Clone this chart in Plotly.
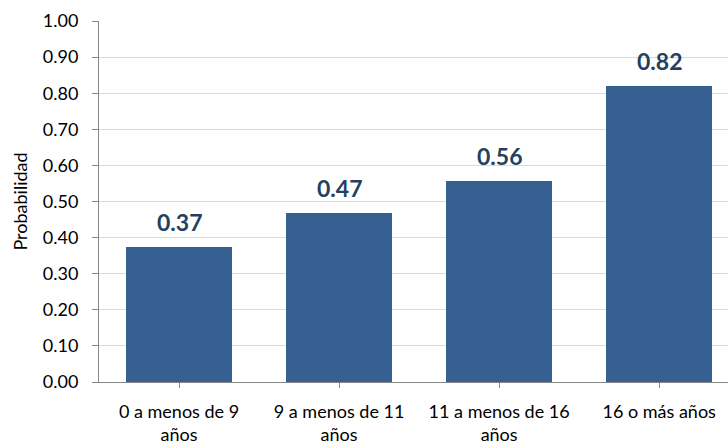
import plotly.graph_objects as go

categories = ["0 a menos de 9<br>años", "9 a menos de 11<br>años", "11 a menos de 16<br>años", "16 o más años"]
values = [0.374, 0.467, 0.556, 0.821]
labels = ["0.37", "0.47", "0.56", "0.82"]
y_ticks = [0.0, 0.1, 0.2, 0.3, 0.4, 0.5, 0.6, 0.7, 0.8, 0.9, 1.0]

FONT = "Lato, Open Sans, sans-serif"

fig = go.Figure()
fig.add_trace(go.Bar(x=list(range(len(categories))), y=values, width=0.665,
                     marker=dict(color="#376092", line=dict(width=0))))

for i, (v, t) in enumerate(zip(values, labels)):
    fig.add_annotation(x=i, y=v, text="<b>%s</b>" % t, showarrow=False,
                       yanchor="bottom", yshift=9,
                       font=dict(family=FONT, size=23, color="#243F60"))

fig.update_layout(
    width=728, height=447,
    margin=dict(l=99, r=0, t=21, b=65),
    paper_bgcolor="white", plot_bgcolor="white",
    showlegend=False,
    font=dict(family=FONT, size=18, color="#000000"),
    bargap=0,
)
fig.update_xaxes(
    range=[-0.5, 3.43], automargin=False,
    tickmode="array", tickvals=list(range(len(categories))), ticktext=categories,
    tickson="boundaries", ticks="outside", ticklen=5, tickcolor="#868686",
    showline=True, linecolor="#868686", linewidth=1,
    showgrid=False, zeroline=False,
    tickfont=dict(size=18),
    ticklabelstandoff=8,
)
fig.update_yaxes(
    range=[0, 1.0], automargin=False,
    tickmode="array", tickvals=y_ticks, ticktext=["%.2f" % v for v in y_ticks],
    ticks="outside", ticklen=6, tickcolor="#868686",
    showline=True, linecolor="#868686", linewidth=1,
    showgrid=True, gridcolor="#D9D9D9", gridwidth=1,
    zeroline=False,
    tickfont=dict(size=18),
    ticklabelstandoff=10,
    title=dict(text="Probabilidad", font=dict(size=18), standoff=10),
)

fig.write_html("out.html", config={"displayModeBar": False},
               post_script="document.body.style.margin='0';")
